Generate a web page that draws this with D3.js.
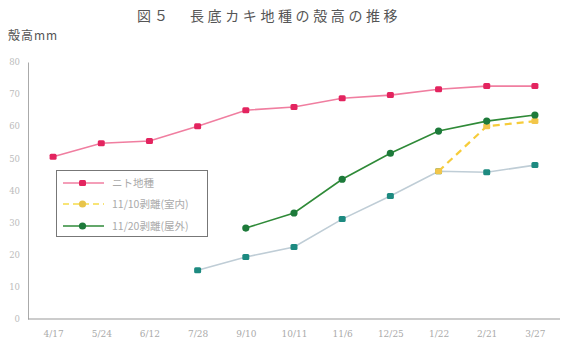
<!DOCTYPE html>
<html><head><meta charset="utf-8">
<script src="https://cdn.jsdelivr.net/npm/d3@7"></script>
<style>body{margin:0;background:#fff}svg{display:block}</style>
</head><body><svg id="c" width="563" height="344"></svg>
<script>
const categories = ["4/17","5/24","6/12","7/28","9/10","10/11","11/6","12/25","1/22","2/21","3/27"];
const yTicks = [0,10,20,30,40,50,60,70,80];
const pinkValues = [50.5,54.7,55.4,60,65,66,68.7,69.7,71.5,72.5,72.5];
const tealValues = [null,null,null,15.2,19.3,22.4,31.1,38.3,46,45.7,47.9];
const yellowValues = [null,null,null,null,null,null,null,null,46,60,61.6];
const greenValues = [null,null,null,null,28.3,33,43.5,51.6,58.5,61.6,63.5];
const titleNum = "図５";
const title = "長底カキ地種の殻高の推移";
const yLabel = "殻高mm";
const legendLabels = ["ニト地種","11/10剥離(室内)","11/20剥離(屋外)"];

const svg = d3.select("#c");
const font = "'Noto Sans CJK JP', 'DejaVu Sans', sans-serif";
const x = d3.scalePoint().domain(categories).range([29,559]).padding(0.5);
const y = d3.scaleLinear().domain([0,80]).range([319,62]);

svg.append("text").attr("x",137).attr("y",21).attr("font-family",font).attr("font-size",14)
  .attr("fill","#555").attr("letter-spacing",3).text(titleNum);
svg.append("text").attr("x",190).attr("y",21).attr("font-family",font).attr("font-size",14)
  .attr("fill","#555").attr("letter-spacing",3.6).text(title);
svg.append("text").attr("x",8).attr("y",40).attr("font-family",font).attr("font-size",12)
  .attr("fill","#555").attr("letter-spacing",1).text(yLabel);

const ya = svg.append("g").attr("transform","translate(28,0)")
  .call(d3.axisLeft(y).tickValues(yTicks).tickSize(0).tickPadding(8));
ya.select(".domain").attr("stroke","#aaa");
ya.selectAll("text").attr("fill","#bbb").attr("font-size",8.5).attr("font-family","'DejaVu Serif', serif");

const xa = svg.append("g").attr("transform","translate(0,319)")
  .call(d3.axisBottom(x).tickSize(0).tickPadding(12));
xa.select(".domain").attr("stroke","#999").attr("d","M28,0H560");
xa.selectAll("text").attr("fill","#aaa").attr("font-size",9).attr("font-family","'DejaVu Serif', serif");

function series(vals, lineColor, markColor, shape, dash) {
  const pts = vals.map((v,i)=>({c:categories[i],v})).filter(d=>d.v!=null);
  svg.append("path").datum(pts)
    .attr("d", d3.line().x(d=>x(d.c)).y(d=>y(d.v)))
    .attr("fill","none").attr("stroke",lineColor).attr("stroke-width",dash?2.2:1.6)
    .attr("stroke-dasharray",dash||null);
  const g = svg.append("g");
  if (shape==="circle") {
    g.selectAll("circle").data(pts).join("circle").attr("cx",d=>x(d.c)).attr("cy",d=>y(d.v))
      .attr("r",3.6).attr("fill",markColor);
  } else {
    g.selectAll("rect").data(pts).join("rect").attr("x",d=>x(d.c)-3.5).attr("y",d=>y(d.v)-3)
      .attr("width",7).attr("height",6).attr("rx",1.5).attr("fill",markColor);
  }
}
series(pinkValues,"#f07ea0","#e3245f","rect");
series(tealValues,"#bfcdd6","#1d8a80","rect");
series(yellowValues,"#f6cc3a","#f2c64a","rect","7,5");
series(greenValues,"#2f8a38","#1d7a3a","circle");

// legend
const lg = svg.append("g");
lg.append("rect").attr("x",56.5).attr("y",170.5).attr("width",151).attr("height",66)
  .attr("fill","#fff").attr("stroke","#777").attr("stroke-width",1);
const legendStyles = [
  {line:"#f07ea0",mark:"#e3245f",shape:"rect",dash:null},
  {line:"#f6dc4a",mark:"#e8c44a",shape:"circle",dash:"6,4"},
  {line:"#2f8a38",mark:"#1d7a3a",shape:"circle",dash:null}
];
const ly = [183,204,226];
legendLabels.forEach((t,i)=>{
  const s = legendStyles[i];
  lg.append("line").attr("x1",63).attr("x2",104).attr("y1",ly[i]).attr("y2",ly[i])
    .attr("stroke",s.line).attr("stroke-width",1.6).attr("stroke-dasharray",s.dash);
  if (s.shape==="rect") lg.append("rect").attr("x",79).attr("y",ly[i]-3).attr("width",7).attr("height",6).attr("rx",1.5).attr("fill",s.mark);
  else lg.append("circle").attr("cx",82.5).attr("cy",ly[i]).attr("r",3.6).attr("fill",s.mark);
  lg.append("text").attr("x",112).attr("y",ly[i]+4).attr("font-family",font).attr("font-size",10.5)
    .attr("fill","#aaa").text(t);
});
</script></body></html>
